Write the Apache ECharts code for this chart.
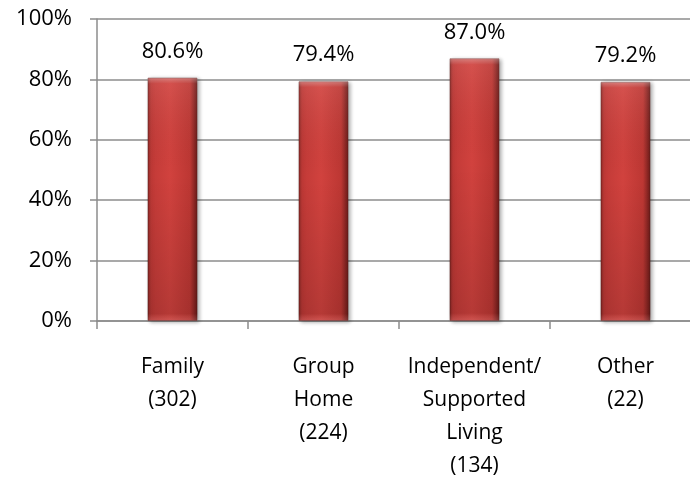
<!DOCTYPE html>
<html>
<head>
<meta charset="utf-8">
<script src="https://cdn.jsdelivr.net/npm/echarts@6/dist/echarts.min.js"></script>
<style>
  html, body { margin: 0; padding: 0; background: #fff; overflow: hidden; }
  /* the plot area runs slightly past the right edge of the window */
  #chart { width: 701px; height: 483px; }
</style>
</head>
<body>
<div id="chart"></div>
<script>
// Living arrangement categories (with respondent counts) and their percentages
const categories = [
  'Family\n(302)',
  'Group\nHome\n(224)',
  'Independent/\nSupported\nLiving\n(134)',
  'Other\n(22)'
];
const percentValues = [80.6, 79.4, 87.0, 79.2];
const yTicks = [0, 20, 40, 60, 80, 100];

const FONT = '"Open Sans", "Noto Sans", sans-serif';
const GRID_GREY = '#8c8c8c';

const chart = echarts.init(document.getElementById('chart'), null, { renderer: 'canvas' });

// Horizontal shading gives the bars their rounded, bevelled look
const barFill = new echarts.graphic.LinearGradient(0, 0, 1, 0, [
  { offset: 0, color: '#8e2a27' },
  { offset: 0.07, color: '#c23a37' },
  { offset: 0.45, color: '#d1423e' },
  { offset: 0.85, color: '#bd3733' },
  { offset: 1, color: '#6a1b19' }
]);
// Vertical overlay: highlight along the top edge, darker towards the base
const barOverlay = new echarts.graphic.LinearGradient(0, 0, 0, 1, [
  { offset: 0, color: 'rgba(255,255,255,0.35)' },
  { offset: 0.025, color: 'rgba(255,255,255,0.08)' },
  { offset: 0.4, color: 'rgba(0,0,0,0)' },
  { offset: 0.97, color: 'rgba(0,0,0,0.13)' },
  { offset: 1, color: 'rgba(255,255,255,0.12)' }
]);

chart.setOption({
  animation: false,
  grid: { left: 97, top: 19, bottom: 157, right: 0, containLabel: false },
  xAxis: {
    type: 'category',
    data: categories,
    axisLine: { show: true, lineStyle: { color: GRID_GREY, width: 1.5 } },
    axisTick: { show: true, length: 8, interval: 0, alignWithLabel: false, lineStyle: { color: GRID_GREY, width: 1.5 } },
    axisLabel: {
      interval: 0,
      margin: 30,
      color: '#000',
      fontFamily: FONT,
      fontSize: 21,
      lineHeight: 33,
      align: 'center'
    },
    splitLine: { show: false }
  },
  yAxis: {
    type: 'value',
    min: yTicks[0],
    max: yTicks[yTicks.length - 1],
    interval: yTicks[1] - yTicks[0],
    axisLine: { show: true, lineStyle: { color: GRID_GREY, width: 1.5 } },
    axisTick: { show: true, length: 7, lineStyle: { color: GRID_GREY, width: 1.5 } },
    axisLabel: {
      formatter: '{value}%',
      margin: 25,
      color: '#000',
      fontFamily: FONT,
      fontSize: 22
    },
    splitLine: { show: true, lineStyle: { color: GRID_GREY, width: 1.5 } }
  },
  series: [
    {
      type: 'bar',
      data: percentValues,
      barWidth: 50,
      itemStyle: {
        color: barFill,
        borderColor: 'rgba(95,30,28,0.55)',
        borderWidth: 1,
        shadowColor: 'rgba(0,0,0,0.35)',
        shadowBlur: 4,
        shadowOffsetX: 2,
        shadowOffsetY: 1
      },
      label: {
        show: true,
        position: 'top',
        distance: 15,
        formatter: p => p.value.toFixed(1) + '%',
        color: '#000',
        fontFamily: FONT,
        fontSize: 22
      },
      z: 2
    },
    {
      type: 'bar',
      data: percentValues,
      barWidth: 50,
      barGap: '-100%',
      silent: true,
      itemStyle: { color: barOverlay },
      label: { show: false },
      z: 3
    }
  ]
});
</script>
</body>
</html>
